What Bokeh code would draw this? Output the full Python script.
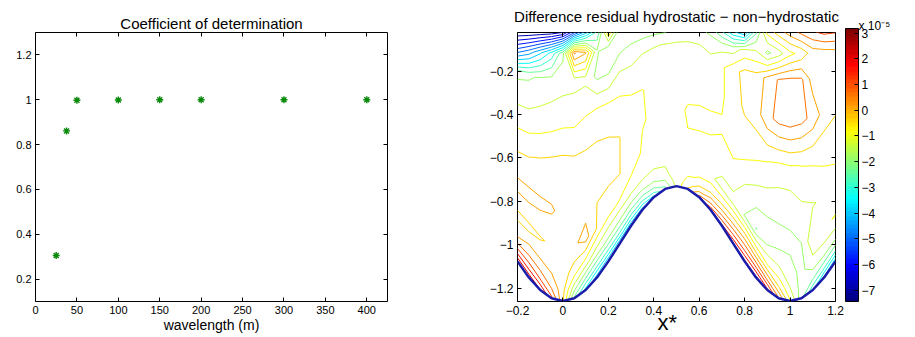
import numpy as np
from bokeh.plotting import figure
from bokeh.layouts import row
from bokeh.models import (Range1d, LinearAxis, FixedTicker, CustomJSTickFormatter,
                          Title, ColorBar, LinearColorMapper)
from bokeh.embed import file_html
from bokeh.resources import INLINE

FONT = "Liberation Sans"

# ---------------- left panel data ----------------
wavelength = [25, 37.5, 50, 100, 150, 200, 300, 400]
r_squared = [0.305, 0.861, 0.998, 0.999, 1.0, 1.0, 1.0, 1.0]
left_xticks = [0, 50, 100, 150, 200, 250, 300, 350, 400]
left_yticks = [0.2, 0.4, 0.6, 0.8, 1, 1.2]

# ---------------- right panel data ----------------
x_nodes = [-0.2, -0.15, -0.1, -0.05, 0.0, 0.05, 0.1, 0.15, 0.2, 0.25, 0.3, 0.35, 0.4, 0.45, 0.5,
           0.55, 0.6, 0.65, 0.7, 0.75, 0.8, 0.85, 0.9, 0.95, 1.0, 1.05, 1.1, 1.15, 1.2]
bed_y = [-1.077, -1.151, -1.209, -1.247, -1.26, -1.247, -1.209, -1.151, -1.077, -0.995, -0.913,
         -0.839, -0.781, -0.743, -0.73, -0.743, -0.781, -0.839, -0.913, -0.995, -1.077, -1.151,
         -1.209, -1.247, -1.26, -1.247, -1.209, -1.151, -1.077]
surface_y = -0.02
sigma = [0, 0.04, 0.1, 0.2, 0.33, 0.5, 0.67, 0.82, 0.92, 1.0]
# residual difference (units of 1e-5), one list per x node, bottom -> surface
resid = [
    [2.6, 1.5, 0.2, -0.5, 0.3, -0.45, -1.3, -2.0, -5.2, -7.4],
    [2.5, 1.5, 0.5, -0.5, 0.3, -0.4, -1.3, -1.95, -4.7, -7.4],
    [2.2, 1.2, 0.3, -0.4, 0.25, -0.3, -1.2, -1.8, -4.0, -7.35],
    [1.3, 0.6, 0.1, -0.3, 0.2, -0.2, -1.1, -1.7, -3.2, -7.3],
    [-0.3, -0.2, -0.1, 0.0, 0.0, -0.15, -1.0, -1.6, -2.0, -7.0],
    [-2.5, -1.6, -0.6, 0.05, -0.1, -0.2, -1.0, -1.55, 0.7, -5.6],
    [-3.6, -2.5, -1.2, 0.35, -0.1, -0.2, -0.85, -1.5, 0.2, -4.2],
    [-4.2, -3.0, -1.7, -0.4, -0.35, -0.2, -0.7, -2.0, -1.8, -2.8],
    [-4.4, -3.1, -1.9, -0.8, -0.35, -0.25, -0.7, -1.9, -2.3, -0.4],
    [-4.4, -3.1, -2.0, -0.9, -0.35, -0.35, -0.75, -1.4, -2.0, -2.3],
    [-4.4, -3.2, -2.1, -1.0, -0.7, -0.75, -0.85, -1.35, -1.75, -2.3],
    [-4.2, -3.1, -2.0, -1.1, -0.9, -0.85, -0.85, -1.2, -1.5, -2.2],
    [-3.6, -2.6, -1.8, -1.2, -1.1, -0.9, -1.0, -1.2, -1.4, -2.0],
    [-2.6, -2.0, -1.5, -1.2, -1.1, -1.05, -1.1, -1.2, -1.35, -1.9],
    [-1.2, -1.1, -1.0, -1.0, -0.95, -1.05, -1.1, -1.2, -1.3, -1.7],
    [-0.3, -0.7, -0.95, -1.0, -0.9, -0.8, -1.1, -1.2, -1.3, -1.6],
    [0.9, 0.0, -0.8, -1.1, -0.95, -0.75, -1.1, -1.2, -1.35, -1.7],
    [1.5, 0.6, -0.4, -1.3, -1.0, -0.75, -1.1, -1.2, -1.5, -2.0],
    [1.8, 0.9, -0.2, -1.5, -1.2, -0.8, -0.95, -0.95, -1.5, -2.8],
    [2.1, 1.2, 0.0, -1.6, -0.95, -0.75, -0.55, -0.55, -1.6, -3.8],
    [2.3, 1.3, 0.1, -1.9, -1.4, -0.6, -0.3, -0.2, -1.2, -4.4],
    [2.3, 1.2, -0.3, -2.4, -1.6, -0.75, -0.1, -0.2, -1.3, -2.5],
    [1.8, 0.6, -0.9, -2.2, -1.7, -0.85, 0.5, 0.3, -2.0, -0.7],
    [0.7, -0.3, -1.2, -2.0, -1.8, -0.95, 0.8, 0.7, -1.6, -0.1],
    [-0.8, -1.3, -1.7, -1.95, -1.8, -0.9, 0.9, 0.8, -1.0, 0.4],
    [-2.2, -2.1, -2.0, -1.9, -1.5, -0.85, 0.8, 0.75, -0.7, 0.8],
    [-3.3, -2.4, -1.6, -0.95, -1.4, -0.8, 0.5, -0.1, -0.1, 1.1],
    [-4.0, -2.8, -1.7, -0.9, -1.3, -0.7, -0.1, -0.1, 0.0, 1.3],
    [-4.3, -3.0, -1.8, -0.85, -1.2, -0.6, -0.3, 0.1, 0.1, 1.2],
]
clim = [-7.44, 3.18]
right_xticks = [-0.2, 0, 0.2, 0.4, 0.6, 0.8, 1, 1.2]
right_yticks = [-1.2, -1, -0.8, -0.6, -0.4, -0.2]
cbar_ticks = [-7, -6, -5, -4, -3, -2, -1, 0, 1, 2, 3]


def jet_hex(t):
    t = min(max(t, 0.0), 1.0)
    r = min(max(1.5 - abs(4 * t - 3), 0), 1)
    g = min(max(1.5 - abs(4 * t - 2), 0), 1)
    b = min(max(1.5 - abs(4 * t - 1), 0), 1)
    return "#%02x%02x%02x" % (round(r * 255), round(g * 255), round(b * 255))


jet64 = [jet_hex(i / 63) for i in range(64)]

minus_code = "return tick < 0 ? '\u2212' + String(-tick) : String(tick);"
blank_code = "return '';"


def style_axis(ax, ticks, labels, size):
    ax.ticker = FixedTicker(ticks=ticks)
    ax.formatter = CustomJSTickFormatter(code=minus_code if labels else blank_code)
    ax.major_tick_in = 4
    ax.major_tick_out = 0
    ax.minor_tick_line_color = None
    ax.axis_line_color = None
    ax.major_tick_line_color = "black"
    ax.major_label_text_font = FONT
    ax.major_label_text_font_size = size if labels else "1px"
    ax.major_label_text_color = "black"
    ax.major_label_standoff = 4 if labels else 0


def base_fig(width, xr, yr, left, right):
    p = figure(width=width, height=337, x_range=xr, y_range=yr, output_backend="svg",
               toolbar_location=None, title=None, min_border=0,
               min_border_left=left, min_border_right=right,
               min_border_top=32, min_border_bottom=34, x_axis_type=None, y_axis_type=None)
    p.outline_line_color = "black"
    p.outline_line_width = 1
    p.background_fill_color = "white"
    p.border_fill_color = "white"
    return p


def box_axes(p, xticks, yticks, size, top_spacer=None):
    bottom = LinearAxis()
    style_axis(bottom, xticks, True, size)
    p.add_layout(bottom, "below")
    left = LinearAxis()
    style_axis(left, yticks, True, size)
    p.add_layout(left, "left")
    top = LinearAxis()
    style_axis(top, xticks, False, size)
    if top_spacer is not None:
        top.axis_label = "\u00a0"
        top.axis_label_text_font_size = top_spacer
        top.axis_label_standoff = 0
    p.add_layout(top, "above")
    rgt = LinearAxis()
    style_axis(rgt, yticks, False, size)
    p.add_layout(rgt, "right")
    return bottom


def add_title(p, text, valign, size="15px", align="center", offset=0):
    p.add_layout(Title(text=text, align=align, vertical_align=valign, standoff=0,
                       offset=offset, text_font=FONT, text_font_size=size,
                       text_font_style="normal", text_color="black"), "above")


def set_xlabel(ax, text, size, standoff):
    ax.axis_label = text
    ax.axis_label_text_font = FONT
    ax.axis_label_text_font_size = size
    ax.axis_label_text_font_style = "normal"
    ax.axis_label_text_color = "black"
    ax.axis_label_standoff = standoff


# ---------------- left figure ----------------
p1 = base_fig(440, Range1d(0, 425), Range1d(0.1, 1.3), 35, 53)
b1 = box_axes(p1, left_xticks, left_yticks, "11px")
p1.scatter(wavelength, r_squared, marker="asterisk", size=7,
           line_color="#0a8a0a", line_width=1.4)
add_title(p1, "Coefficient of determination", "middle")
set_xlabel(b1, "wavelength (m)", "14px", 0)

# ---------------- right figure ----------------
p2 = base_fig(405, Range1d(-0.2, 1.2), Range1d(-1.262, -0.022), 77, 10)
b2 = box_axes(p2, right_xticks, right_yticks, "12px", top_spacer="4px")
add_title(p2, "Difference residual hydrostatic \u2212 non\u2212hydrostatic", "bottom")
set_xlabel(b2, "x*\u00a0\u00a0\u00a0", "22px", -8)

X = np.array([[xv for xv in x_nodes] for s in sigma])
Y = np.array([[b + s * (surface_y - b) for b in bed_y] for s in sigma])
Z = np.array([[resid[i][j] for i in range(len(x_nodes))] for j in range(len(sigma))])

levels = list(np.linspace(clim[0], clim[1], 22)[1:-1])
level_colors = [jet_hex((lv - clim[0]) / (clim[1] - clim[0])) for lv in levels]
p2.contour(X, Y, Z, levels, line_color=level_colors, line_width=1)
p2.line(x_nodes, bed_y, line_color="#1c1caa", line_width=2.5)

# ---------------- colour bar figure ----------------
p3 = figure(width=60, height=337, x_range=Range1d(0, 1), y_range=Range1d(0, 1),
            output_backend="svg", toolbar_location=None, title=None, min_border=0,
            min_border_left=0, min_border_right=47, min_border_top=31, min_border_bottom=33,
            x_axis_type=None, y_axis_type=None)
p3.outline_line_color = None
p3.xgrid.visible = False
p3.ygrid.visible = False
p3.border_fill_color = "white"
mapper = LinearColorMapper(palette=jet64, low=clim[0], high=clim[1])
cbar = ColorBar(color_mapper=mapper, ticker=FixedTicker(ticks=cbar_ticks),
                formatter=CustomJSTickFormatter(code=minus_code),
                width=13, height=273, location=(0, 0), padding=0, margin=0,
                major_tick_in=4, major_tick_out=0, major_tick_line_color="black",
                minor_tick_line_color=None,
                bar_line_color="black", label_standoff=3,
                major_label_text_font=FONT, major_label_text_font_size="12px",
                major_label_text_color="black",
                background_fill_color=None, border_line_color=None)
p3.add_layout(cbar, "center")
add_title(p3, "x 10\u207b\u2075", "bottom", size="12px", align="left", offset=13)

layout = row(p1, p2, p3)
open("out.html", "w").write(file_html(layout, INLINE))
